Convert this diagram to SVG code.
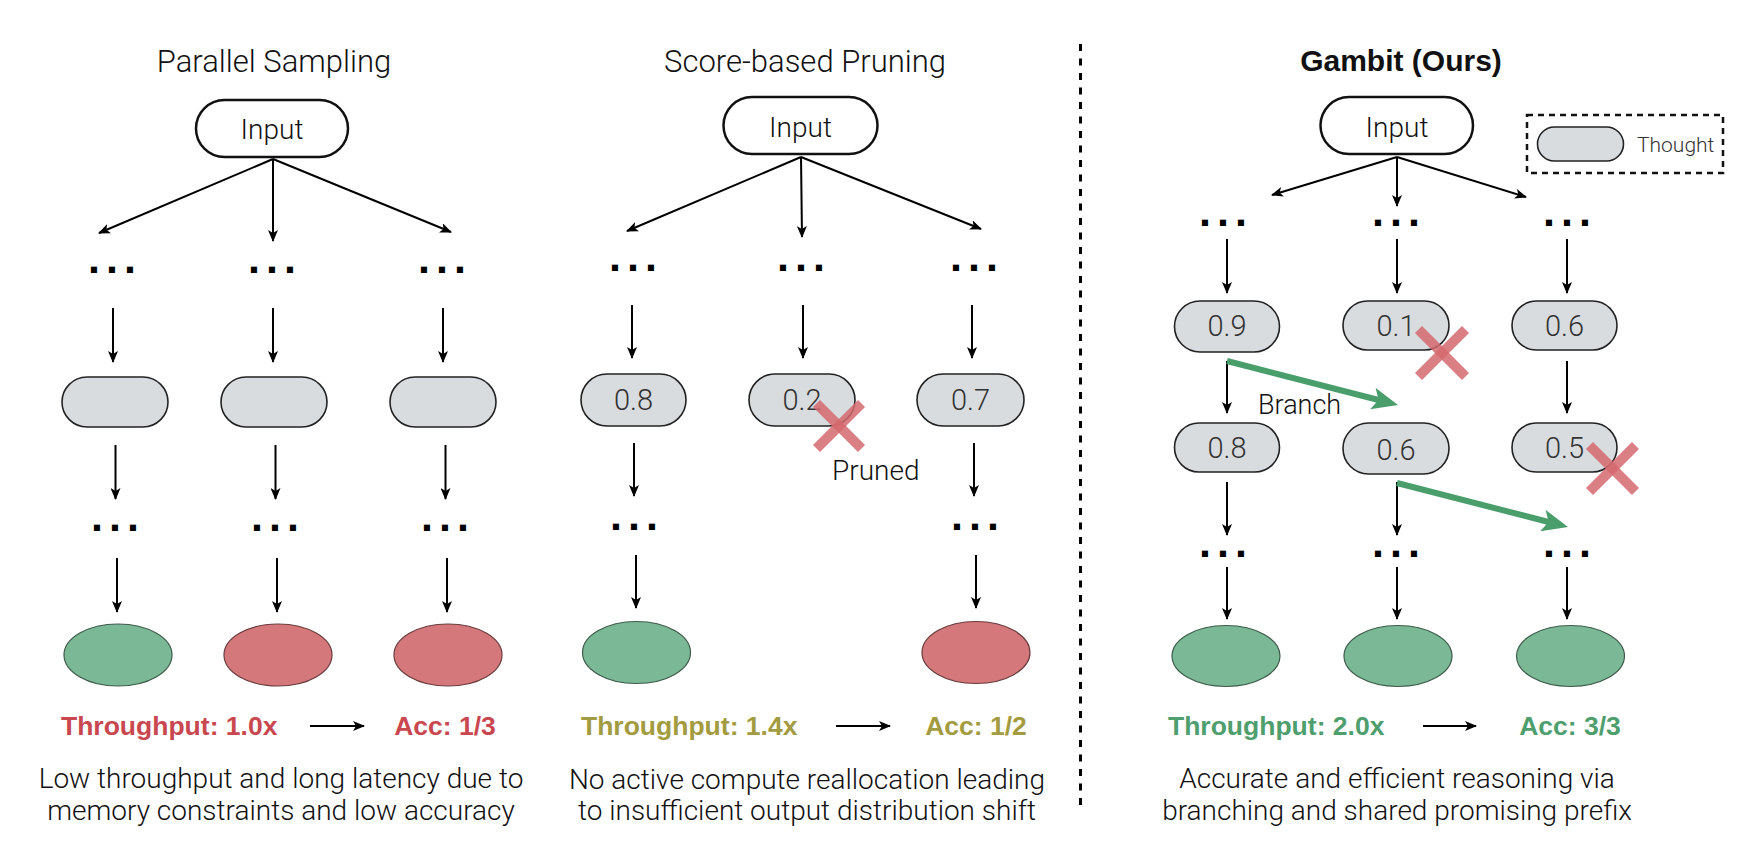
<svg xmlns="http://www.w3.org/2000/svg" width="1750" height="850" viewBox="0 0 1750 850">
<defs>
<marker id="ah" viewBox="0 0 12 10" refX="11" refY="5" markerWidth="12" markerHeight="10" markerUnits="userSpaceOnUse" orient="auto"><path d="M0,0 L12,5 L0,10 L3,5 z" fill="#000"/></marker>
<marker id="gah" viewBox="0 0 26 22" refX="14" refY="11" markerWidth="26" markerHeight="22" markerUnits="userSpaceOnUse" orient="auto"><path d="M0,0 L26,11 L0,22 L6,11 z" fill="#4A9E6B"/></marker>
<style>
text{font-family:Roboto,"Liberation Sans",Arial,sans-serif;font-weight:300;fill:#111}
.title{font-size:31px;text-anchor:middle}
.titleb{font-family:"Liberation Sans",Arial,sans-serif;font-size:30px;text-anchor:middle;font-weight:bold}
.inp{fill:#fff;stroke:#111;stroke-width:2.5}
.inpt{font-size:28px;text-anchor:middle}
.th{fill:#D9DCDF;stroke:#222;stroke-width:1.6}
.score{font-size:29px;text-anchor:middle;fill:#333}
.dots{font-family:"Liberation Sans",Arial,sans-serif;font-size:43px;font-weight:bold;letter-spacing:6px;fill:#000}
.ok{fill:#7BB896;stroke:#3d5c4a;stroke-width:1.2}
.bad{fill:#D4787B;stroke:#6b3b3d;stroke-width:1.2}
.con line{stroke:#000;stroke-width:2}
.con .g{stroke:#4A9E6B;stroke-width:6}
.x line{stroke:#D4686E;stroke-width:10;stroke-opacity:0.85}
.met{font-family:"Liberation Sans",Arial,sans-serif;font-size:26.5px;font-weight:bold}
.desc{font-size:28px;text-anchor:middle;fill:#111}
.lab{font-size:28px}
</style>
</defs>
<rect width="1750" height="850" fill="#fff"/>

<!-- Panel 1 -->
<g id="title-parallel"><text class="title" x="274" y="72">Parallel Sampling</text></g>
<g id="p1-input"><rect class="inp" x="196" y="100" width="152" height="57" rx="28.5"/><text class="inpt" x="272" y="139">Input</text></g>
<g id="p1-dots1a"><text class="dots" x="88" y="273">...</text></g>
<g id="p1-dots1b"><text class="dots" x="248" y="273">...</text></g>
<g id="p1-dots1c"><text class="dots" x="418" y="273">...</text></g>
<g id="p1-t1"><rect class="th" x="62" y="377" width="106" height="50" rx="25"/></g>
<g id="p1-t2"><rect class="th" x="221" y="377" width="106" height="50" rx="25"/></g>
<g id="p1-t3"><rect class="th" x="390" y="377" width="106" height="50" rx="25"/></g>
<g id="p1-dots2a"><text class="dots" x="91" y="531">...</text></g>
<g id="p1-dots2b"><text class="dots" x="251" y="531">...</text></g>
<g id="p1-dots2c"><text class="dots" x="421" y="531">...</text></g>
<g id="p1-o1"><ellipse class="ok" cx="118" cy="655" rx="54" ry="31"/></g>
<g id="p1-o2"><ellipse class="bad" cx="278" cy="655" rx="54" ry="31"/></g>
<g id="p1-o3"><ellipse class="bad" cx="448" cy="655" rx="54" ry="31"/></g>
<g id="p1-metrics"><text class="met" x="61" y="735" style="fill:#C9484F">Throughput: 1.0x</text><text class="met" x="445" y="735" text-anchor="middle" style="fill:#C9484F">Acc: 1/3</text></g>
<g id="p1-desc"><text class="desc" x="281" y="788">Low throughput and long latency due to</text><text class="desc" x="281" y="820">memory constraints and low accuracy</text></g>

<!-- Panel 2 -->
<g id="title-pruning"><text class="title" x="805" y="72">Score-based Pruning</text></g>
<g id="p2-input"><rect class="inp" x="723.5" y="97" width="154" height="57" rx="28.5"/><text class="inpt" x="800.5" y="137">Input</text></g>
<g id="p2-dots1a"><text class="dots" x="609" y="271">...</text></g>
<g id="p2-dots1b"><text class="dots" x="777" y="271">...</text></g>
<g id="p2-dots1c"><text class="dots" x="950" y="271">...</text></g>
<g id="p2-t1"><rect class="th" x="581" y="374" width="105" height="52" rx="26"/><text class="score" x="633.5" y="410">0.8</text></g>
<g id="p2-t2"><rect class="th" x="749" y="374" width="106" height="52" rx="26"/><text class="score" x="802" y="410">0.2</text></g>
<g id="p2-t3"><rect class="th" x="917" y="374" width="107" height="52" rx="26"/><text class="score" x="970.5" y="410">0.7</text></g>
<g id="p2-prune" class="x"><line x1="816.5" y1="403.5" x2="861.5" y2="448.5"/><line x1="861.5" y1="403.5" x2="816.5" y2="448.5"/><text class="lab" x="832" y="480">Pruned</text></g>
<g id="p2-dots2a"><text class="dots" x="610" y="530">...</text></g>
<g id="p2-dots2c"><text class="dots" x="951" y="530">...</text></g>
<g id="p2-o1"><ellipse class="ok" cx="636.5" cy="652.5" rx="54" ry="31"/></g>
<g id="p2-o3"><ellipse class="bad" cx="976" cy="652.5" rx="54" ry="31"/></g>
<g id="p2-metrics"><text class="met" x="581" y="735" style="fill:#A39B40">Throughput: 1.4x</text><text class="met" x="976" y="735" text-anchor="middle" style="fill:#A39B40">Acc: 1/2</text></g>
<g id="p2-desc"><text class="desc" x="807" y="789">No active compute reallocation leading</text><text class="desc" x="807" y="820">to insufficient output distribution shift</text></g>

<!-- Divider -->
<g id="divider"><line x1="1080.5" y1="44" x2="1080.5" y2="808" stroke="#000" stroke-width="3" stroke-dasharray="7 7.5"/></g>

<!-- Panel 3 -->
<g id="title-gambit"><text class="titleb" x="1401" y="71">Gambit (Ours)</text></g>
<g id="p3-input"><rect class="inp" x="1320.5" y="97" width="152.5" height="57" rx="28.5"/><text class="inpt" x="1397" y="137">Input</text></g>
<g id="legend"><rect x="1527" y="115" width="196" height="58" fill="none" stroke="#111" stroke-width="2.5" stroke-dasharray="6 5"/><rect class="th" x="1537.5" y="127" width="86" height="34" rx="17"/><text x="1637" y="152" style="font-size:21px;fill:#333">Thought</text></g>
<g id="p3-dots1a"><text class="dots" x="1199" y="226">...</text></g>
<g id="p3-dots1b"><text class="dots" x="1372" y="226">...</text></g>
<g id="p3-dots1c"><text class="dots" x="1543" y="226">...</text></g>
<g id="p3-t11"><rect class="th" x="1174.5" y="301" width="105" height="51" rx="25.5"/><text class="score" x="1227" y="336">0.9</text></g>
<g id="p3-t12"><rect class="th" x="1343" y="301" width="106" height="49" rx="24.5"/><text class="score" x="1396" y="336">0.1</text></g>
<g id="p3-t13"><rect class="th" x="1512" y="301" width="105" height="49" rx="24.5"/><text class="score" x="1564.5" y="336">0.6</text></g>
<g id="p3-x1" class="x"><line x1="1418.5" y1="329.5" x2="1465.5" y2="376.5"/><line x1="1465.5" y1="329.5" x2="1418.5" y2="376.5"/></g>
<g id="p3-t21"><rect class="th" x="1174.5" y="423" width="105" height="49" rx="24.5"/><text class="score" x="1227" y="458">0.8</text></g>
<g id="p3-t22"><rect class="th" x="1343" y="423" width="106" height="51" rx="25.5"/><text class="score" x="1396" y="460">0.6</text></g>
<g id="p3-t23"><rect class="th" x="1512" y="423" width="105" height="49" rx="24.5"/><text class="score" x="1564.5" y="458">0.5</text></g>
<g id="p3-x2" class="x"><line x1="1589.5" y1="445.5" x2="1635.5" y2="491.5"/><line x1="1635.5" y1="445.5" x2="1589.5" y2="491.5"/></g>
<g id="p3-branch"><text x="1258" y="414" style="font-size:27px">Branch</text></g>
<g id="p3-dots2a"><text class="dots" x="1199" y="557">...</text></g>
<g id="p3-dots2b"><text class="dots" x="1372" y="557">...</text></g>
<g id="p3-dots2c"><text class="dots" x="1543" y="557">...</text></g>
<g id="p3-o1"><ellipse class="ok" cx="1226" cy="656" rx="54" ry="30.5"/></g>
<g id="p3-o2"><ellipse class="ok" cx="1398" cy="656" rx="54" ry="30.5"/></g>
<g id="p3-o3"><ellipse class="ok" cx="1570.5" cy="656" rx="54" ry="30.5"/></g>
<g id="p3-metrics"><text class="met" x="1168" y="735" style="fill:#4E9E6E">Throughput: 2.0x</text><text class="met" x="1570" y="735" text-anchor="middle" style="fill:#4E9E6E">Acc: 3/3</text></g>
<g id="p3-desc"><text class="desc" x="1397" y="788">Accurate and efficient reasoning via</text><text class="desc" x="1397" y="820">branching and shared promising prefix</text></g>

<!-- Connectors -->
<g id="connectors" class="con">
<line x1="273" y1="159" x2="99" y2="233" marker-end="url(#ah)"/>
<line x1="273" y1="159" x2="273" y2="241" marker-end="url(#ah)"/>
<line x1="273" y1="159" x2="451" y2="232" marker-end="url(#ah)"/>
<line x1="113" y1="308" x2="113" y2="362" marker-end="url(#ah)"/>
<line x1="273" y1="308" x2="273" y2="362" marker-end="url(#ah)"/>
<line x1="443" y1="308" x2="443" y2="362" marker-end="url(#ah)"/>
<line x1="115.5" y1="445" x2="115.5" y2="499" marker-end="url(#ah)"/>
<line x1="275.5" y1="445" x2="275.5" y2="499" marker-end="url(#ah)"/>
<line x1="445.5" y1="445" x2="445.5" y2="499" marker-end="url(#ah)"/>
<line x1="117" y1="558" x2="117" y2="612" marker-end="url(#ah)"/>
<line x1="277" y1="558" x2="277" y2="612" marker-end="url(#ah)"/>
<line x1="447" y1="558" x2="447" y2="612" marker-end="url(#ah)"/>
<line x1="310" y1="726" x2="364" y2="726" marker-end="url(#ah)"/>

<line x1="801" y1="157" x2="627" y2="231" marker-end="url(#ah)"/>
<line x1="801" y1="157" x2="802" y2="237" marker-end="url(#ah)"/>
<line x1="801" y1="157" x2="981" y2="229" marker-end="url(#ah)"/>
<line x1="632" y1="305" x2="632" y2="358" marker-end="url(#ah)"/>
<line x1="803" y1="305" x2="803" y2="358" marker-end="url(#ah)"/>
<line x1="972" y1="305" x2="972" y2="358" marker-end="url(#ah)"/>
<line x1="634" y1="443" x2="634" y2="496" marker-end="url(#ah)"/>
<line x1="974" y1="443" x2="974" y2="496" marker-end="url(#ah)"/>
<line x1="636" y1="555" x2="636" y2="608" marker-end="url(#ah)"/>
<line x1="976" y1="555" x2="976" y2="608" marker-end="url(#ah)"/>
<line x1="836" y1="726" x2="890" y2="726" marker-end="url(#ah)"/>

<line x1="1397" y1="157" x2="1272" y2="195" marker-end="url(#ah)"/>
<line x1="1397" y1="157" x2="1397" y2="206" marker-end="url(#ah)"/>
<line x1="1397" y1="157" x2="1526" y2="197" marker-end="url(#ah)"/>
<line x1="1227" y1="239" x2="1227" y2="293" marker-end="url(#ah)"/>
<line x1="1397" y1="239" x2="1397" y2="293" marker-end="url(#ah)"/>
<line x1="1567" y1="239" x2="1567" y2="293" marker-end="url(#ah)"/>
<line x1="1227" y1="361" x2="1227" y2="413" marker-end="url(#ah)"/>
<line x1="1567" y1="361" x2="1567" y2="413" marker-end="url(#ah)"/>
<line x1="1227" y1="482" x2="1227" y2="535" marker-end="url(#ah)"/>
<line x1="1397" y1="482" x2="1397" y2="535" marker-end="url(#ah)"/>
<line x1="1227" y1="567" x2="1227" y2="619" marker-end="url(#ah)"/>
<line x1="1397" y1="567" x2="1397" y2="619" marker-end="url(#ah)"/>
<line x1="1567" y1="567" x2="1567" y2="619" marker-end="url(#ah)"/>
<line x1="1423" y1="726" x2="1476" y2="726" marker-end="url(#ah)"/>
<line class="g" x1="1227" y1="361" x2="1386.4" y2="402" marker-end="url(#gah)"/>
<line class="g" x1="1397" y1="483" x2="1556.4" y2="524" marker-end="url(#gah)"/>
</g>
</svg>
